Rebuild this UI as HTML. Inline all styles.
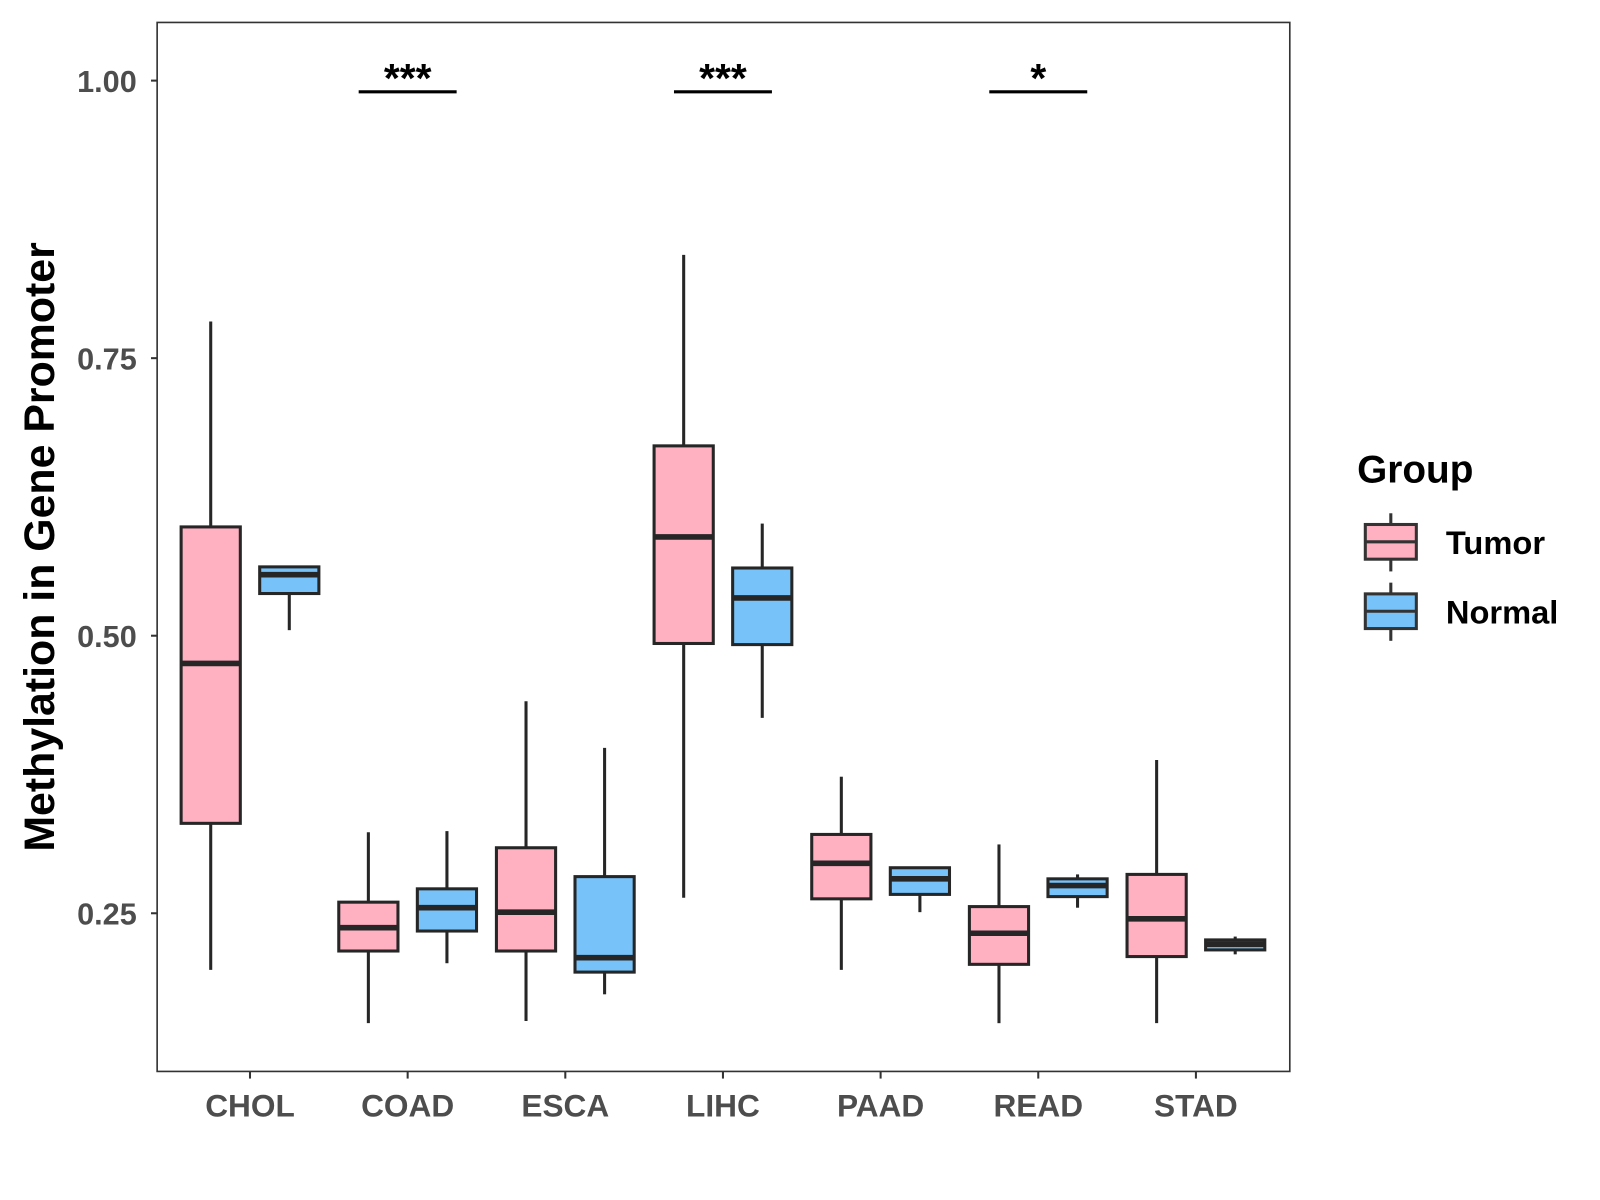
<!DOCTYPE html>
<html><head><meta charset="utf-8"><style>
html,body{margin:0;padding:0;background:#fff}
svg{display:block}
text{font-family:"Liberation Sans",Arial,sans-serif;font-weight:bold}
</style></head><body>
<svg id="chart" width="1600" height="1200" viewBox="0 0 1568 1176" xmlns="http://www.w3.org/2000/svg">
<rect x="0" y="0" width="1568" height="1176" fill="#fff"/>
<g id="plot"></g>
<rect x="154" y="22" width="1110" height="1028" fill="none" stroke="#333" stroke-width="1.6"/>
<text x="0" y="0" transform="translate(53,536) rotate(-90)" text-anchor="middle" font-size="42" fill="#000">Methylation in Gene Promoter</text>
<g>
<text x="1330" y="473" font-size="38" fill="#000">Group</text>
<g>
<line x1="1363" y1="503" x2="1363" y2="560" stroke="#333" stroke-width="3"/>
<rect x="1338" y="514" width="50" height="34" fill="#FFB0C1" stroke="#333" stroke-width="3"/>
<line x1="1338" y1="531" x2="1388" y2="531" stroke="#333" stroke-width="3"/>
<text x="1417" y="543" font-size="32" fill="#000">Tumor</text>
</g>
<g>
<line x1="1363" y1="571" x2="1363" y2="628" stroke="#333" stroke-width="3"/>
<rect x="1338" y="582" width="50" height="34" fill="#77C3F9" stroke="#333" stroke-width="3"/>
<line x1="1338" y1="599" x2="1388" y2="599" stroke="#333" stroke-width="3"/>
<text x="1417" y="611" font-size="32" fill="#000">Normal</text>
</g>
</g>
</svg>
<script>
const categories = ["CHOL","COAD","ESCA","LIHC","PAAD","READ","STAD"];
// [lowWhisker, Q1, median, Q3, highWhisker]
const tumorStats = [
 [0.199,0.331,0.475,0.598,0.783],
 [0.151,0.216,0.237,0.260,0.323],
 [0.153,0.216,0.251,0.309,0.441],
 [0.264,0.493,0.589,0.671,0.843],
 [0.199,0.263,0.295,0.321,0.373],
 [0.151,0.204,0.232,0.256,0.312],
 [0.151,0.211,0.245,0.285,0.388]
];
const normalStats = [
 [0.505,0.538,0.555,0.562,0.562],
 [0.205,0.234,0.255,0.272,0.324],
 [0.177,0.197,0.210,0.283,0.399],
 [0.426,0.492,0.534,0.561,0.601],
 [0.251,0.267,0.281,0.291,0.291],
 [0.255,0.265,0.275,0.281,0.285],
 [0.213,0.217,0.222,0.226,0.229]
];
const yTicks = [0.25,0.50,0.75,1.00];
const yTickLabels = ["0.25","0.50","0.75","1.00"];
const sigCategories = ["COAD","LIHC","READ"];
const sigLabels = ["***","***","*"];

const NS="http://www.w3.org/2000/svg";
const svg=document.getElementById('chart');
const plot=document.getElementById('plot');
function y(v){return 79+(1-v)*1088;}
function x(i){return 245+i*154.5;}
function mk(tag,attrs,parent){const e=document.createElementNS(NS,tag);for(const k in attrs)e.setAttribute(k,attrs[k]);(parent||plot).appendChild(e);return e;}

yTicks.forEach((t,i)=>{
 const l=mk('line',{x1:148,x2:154,y1:y(t),y2:y(t),stroke:'#333','stroke-width':2},svg);
 
 
 const tx=mk('text',{x:134,y:y(t)+11,'text-anchor':'end','font-size':30,fill:'#4d4d4d'},svg);
 tx.textContent=yTickLabels[i];
 
 
});
categories.forEach((c,i)=>{
 const l=mk('line',{x1:x(i),x2:x(i),y1:1050,y2:1057,stroke:'#333','stroke-width':2},svg);
 
 
 const tx=mk('text',{x:x(i),y:1094,'text-anchor':'middle','font-size':31,fill:'#4d4d4d'},svg);
 tx.textContent=c;
 
 
});
function box(cx,s,fill,name){
 const g=mk('g',{});
 
 
 mk('line',{x1:cx,x2:cx,y1:y(s[4]),y2:y(s[3]),stroke:'#262626','stroke-width':3},g);
 mk('line',{x1:cx,x2:cx,y1:y(s[1]),y2:y(s[0]),stroke:'#262626','stroke-width':3},g);
 mk('rect',{x:cx-29,y:y(s[3]),width:58,height:Math.max(0.5,y(s[1])-y(s[3])),fill:fill,stroke:'#262626','stroke-width':3},g);
 mk('line',{x1:cx-29,x2:cx+29,y1:y(s[2]),y2:y(s[2]),stroke:'#262626','stroke-width':5.5},g);
}
categories.forEach((c,i)=>{
 box(x(i)-38.5,tumorStats[i],'#FFB0C1','box-tumor-'+c.toLowerCase());
 box(x(i)+38.5,normalStats[i],'#77C3F9','box-normal-'+c.toLowerCase());
});
sigCategories.forEach((c,k)=>{
 const i=categories.indexOf(c);
 const l=mk('line',{x1:x(i)-48,x2:x(i)+48,y1:90,y2:90,stroke:'#000','stroke-width':3});
 
 
 const t=mk('text',{x:x(i),y:90,'text-anchor':'middle','font-size':40,fill:'#000'});
 t.textContent=sigLabels[k];
 
 
});
</script>
</body></html>
